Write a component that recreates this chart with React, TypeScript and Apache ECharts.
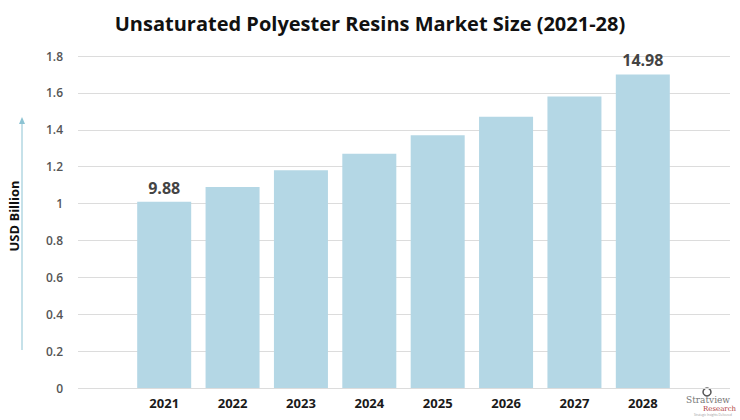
import React, { useEffect, useRef } from "react";
import * as echarts from "echarts";

const categories = ["2021", "2022", "2023", "2024", "2025", "2026", "2027", "2028"];
const values = [1.01, 1.09, 1.18, 1.27, 1.37, 1.47, 1.58, 1.7];
const barLabels = ["9.88", "", "", "", "", "", "", "14.98"];
const yMin = 0;
const yMax = 1.8;
const yInterval = 0.2;

export default function App() {
  const ref = useRef<HTMLDivElement>(null);
  useEffect(() => {
    if (!ref.current) return;
    const chart = echarts.init(ref.current, undefined, { renderer: "svg" });
    const font = "Open Sans";
    chart.setOption({
      animation: false,
      backgroundColor: "#ffffff",
      title: {
        text: "Unsaturated Polyester Resins Market Size (2021-28)",
        left: "center",
        top: 8,
        textStyle: { fontFamily: font, fontSize: 20, fontWeight: "bold", color: "#111111" },
      },
      grid: [
        { left: 78, right: 10, top: 56, bottom: 32 },
        { left: 130, right: 63, top: 56, bottom: 32 },
      ],
      xAxis: [
        { type: "category", gridIndex: 0, data: categories, show: false },
        {
          type: "category",
          gridIndex: 1,
          data: categories,
          axisLine: { show: false },
          axisTick: { show: false },
          axisLabel: { fontFamily: font, fontSize: 13, fontWeight: "bold", color: "#1a1a1a", margin: 8 },
        },
      ],
      yAxis: [
        {
          type: "value",
          gridIndex: 0,
          min: yMin,
          max: yMax,
          interval: yInterval,
          axisLine: { show: false },
          axisTick: { show: false },
          splitLine: { lineStyle: { color: "#dcdcdc", width: 1 } },
          axisLabel: { fontFamily: font, fontSize: 12, fontWeight: 600, color: "#555555", margin: 15 },
        },
        {
          type: "value",
          gridIndex: 1,
          min: yMin,
          max: yMax,
          interval: yInterval,
          show: false,
          splitLine: { show: false },
        },
      ],
      series: [
        {
          type: "bar",
          xAxisIndex: 1,
          yAxisIndex: 1,
          barWidth: 54,
          itemStyle: { color: "#b4d7e5" },
          data: values.map((v, i) => ({
            value: v,
            label: {
              show: barLabels[i] !== "",
              position: "top",
              distance: 6,
              formatter: () => barLabels[i],
              fontFamily: font,
              fontSize: 16,
              fontWeight: "bold",
              color: "#444444",
            },
          })),
        },
      ],
      graphic: [
        {
          type: "text",
          x: 14,
          y: 216,
          rotation: Math.PI / 2,
          style: {
            text: "USD Billion",
            fontFamily: font,
            fontSize: 13,
            fontWeight: "bold",
            fill: "#111111",
            align: "center",
            verticalAlign: "middle",
          },
        },
        {
          type: "line",
          shape: { x1: 22, y1: 350, x2: 22, y2: 122 },
          style: { stroke: "#8cc3d3", lineWidth: 1 },
        },
        {
          type: "polygon",
          shape: { points: [[22, 117], [19, 124], [25, 124]] },
          style: { fill: "#8cc3d3" },
        },
        {
          type: "circle",
          shape: { cx: 707, cy: 392, r: 4 },
          style: { fill: "none", stroke: "#555555", lineWidth: 1.5 },
        },
        {
          type: "text",
          x: 686,
          y: 400,
          style: { text: "Stratview", fontFamily: "DejaVu Serif", fontSize: 9, fill: "#777777", verticalAlign: "middle" },
        },
        {
          type: "text",
          x: 703,
          y: 409,
          style: { text: "Research", fontFamily: "DejaVu Serif", fontSize: 7, fill: "#b04040", verticalAlign: "middle" },
        },
        {
          type: "text",
          x: 694,
          y: 415,
          style: { text: "Strategic Insights Delivered", fontFamily: font, fontSize: 3, fill: "#999999", verticalAlign: "middle" },
        },
      ],
    });
    return () => chart.dispose();
  }, []);
  return <div ref={ref} style={{ position: "fixed", left: 0, top: 0, width: 740, height: 420 }} />;
}
